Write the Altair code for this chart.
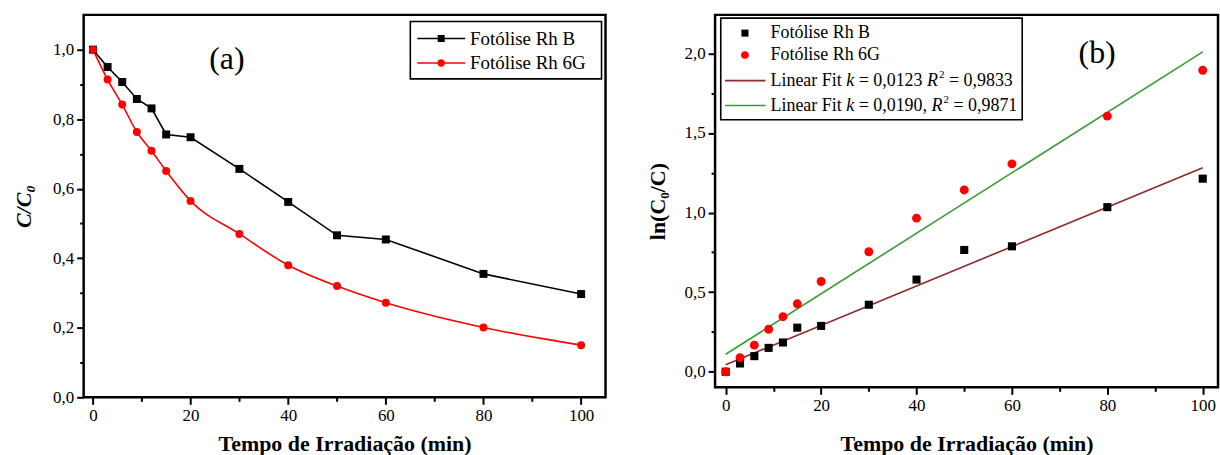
import altair as alt
import pandas as pd

# Irradiation times (min)
tempo = [0, 3, 6, 9, 12, 15, 20, 30, 40, 50, 60, 80, 100]

# Relative concentration C/C0
c_rhb = [1.0, 0.950, 0.907, 0.858, 0.831, 0.756, 0.748, 0.657, 0.562, 0.466, 0.454, 0.355, 0.297]
c_rh6g = [1.0, 0.914, 0.842, 0.763, 0.709, 0.651, 0.565, 0.470, 0.380, 0.320, 0.272, 0.201, 0.150]

# Pseudo-first-order plot ln(C0/C)
ln_rhb = [0.0, 0.052, 0.098, 0.150, 0.184, 0.277, 0.288, 0.421, 0.579, 0.765, 0.788, 1.034, 1.213]
ln_rh6g = [0.0, 0.088, 0.167, 0.267, 0.346, 0.427, 0.567, 0.754, 0.965, 1.142, 1.306, 1.606, 1.894]

# Linear fit lines (end points)
fit_t = [0, 100]
fit_rhb = [0.044, 1.281]
fit_rh6g = [0.110, 2.010]

series = ["Fotólise Rh B", "Fotólise Rh 6G"]

FONT = "'Liberation Serif', 'Times New Roman', serif"
BLACK, RED = "#000000", "#ff0000"
WINE, GREEN = "#8e2a2a", "#3a9a35"

W_A, H_A = 524, 384
W_B, H_B = 505, 374

one = pd.DataFrame({"k": [0]})


def txt(text, x, y, size, **kw):
    return alt.Chart(one).mark_text(
        text=text, font=FONT, fontSize=size, align="left", baseline="middle",
        color="black", **kw
    ).encode(x=alt.value(x), y=alt.value(y))


def rule(x1, x2, y, color, width=1.6):
    return alt.Chart(one).mark_rule(color=color, strokeWidth=width).encode(
        x=alt.value(x1), x2=alt.value(x2), y=alt.value(y)
    )


def sym(x, y, shape, color, size):
    return alt.Chart(one).mark_point(
        shape=shape, filled=True, color=color, size=size, opacity=1
    ).encode(x=alt.value(x), y=alt.value(y))


def box(x1, x2, y1, y2):
    return alt.Chart(one).mark_rect(
        fill="white", stroke="black", strokeWidth=1.6
    ).encode(x=alt.value(x1), x2=alt.value(x2), y=alt.value(y1), y2=alt.value(y2))


def x_axis(pad):
    return alt.Axis(
        values=list(range(0, 101, 10)),
        labelExpr="datum.value % 20 === 0 ? datum.label : ''",
        tickSize={"condition": {"test": "datum.value % 20 === 0", "value": 7}, "value": 4},
        title="Tempo de Irradiação (min)",
        titlePadding=pad,
    )


color_scale = alt.Scale(domain=series, range=[BLACK, RED])
shape_scale = alt.Scale(domain=series, range=["square", "circle"])

# ---------- panel (a): C/C0 versus time ----------
df_a = pd.DataFrame({
    "t": tempo + tempo,
    "v": c_rhb + c_rh6g,
    "s": [series[0]] * len(tempo) + [series[1]] * len(tempo),
})

xa = alt.X("t:Q", scale=alt.Scale(domain=[-1.9, 105], nice=False, zero=False), axis=x_axis(10))
ya = alt.Y(
    "v:Q",
    scale=alt.Scale(domain=[0, 1.1], nice=False),
    axis=alt.Axis(
        values=[i / 10 for i in range(0, 11)],
        labelExpr="round(datum.value * 10) % 2 === 0 ? replace(format(datum.value, '.1f'), '.', ',') : ''",
        tickSize={"condition": {"test": "round(datum.value * 10) % 2 === 0", "value": 7}, "value": 4},
        title="C/C₀",
        titleFontStyle="italic",
        titlePadding=17,
    ),
)

base_a = alt.Chart(df_a)
line_b = base_a.transform_filter(alt.datum.s == series[0]).mark_line(color=BLACK, strokeWidth=1.6).encode(x=xa, y=ya)
line_r = base_a.transform_filter(alt.datum.s == series[1]).mark_line(
    color=RED, strokeWidth=1.6, interpolate="monotone").encode(x=xa, y=ya)
pts_a = base_a.mark_point(filled=True, size=64, opacity=1).encode(
    x=xa, y=ya,
    color=alt.Color("s:N", scale=color_scale, legend=None),
    shape=alt.Shape("s:N", scale=shape_scale, legend=None),
)

legend_a = alt.layer(
    box(328, 520, 6.7, 64.3),
    rule(335, 383, 23.7, BLACK), sym(359, 23.7, "square", BLACK, 50),
    rule(335, 383, 48.3, RED), sym(359, 48.3, "circle", RED, 55),
    txt(series[0], 388, 24, 19),
    txt(series[1], 388, 48.6, 19),
)

panel_a = alt.layer(
    line_b, line_r, pts_a, legend_a,
    txt("(a)", 126, 44, 32),
).properties(width=W_A, height=H_A)

# ---------- panel (b): ln(C0/C) versus time ----------
df_b = pd.DataFrame({
    "t": tempo + tempo,
    "v": ln_rhb + ln_rh6g,
    "s": [series[0]] * len(tempo) + [series[1]] * len(tempo),
})
df_fit = pd.DataFrame({
    "t": fit_t + fit_t,
    "v": fit_rhb + fit_rh6g,
    "f": ["Rh B"] * 2 + ["Rh 6G"] * 2,
})

xb = alt.X("t:Q", scale=alt.Scale(domain=[-2.23, 103.2], nice=False, zero=False), axis=x_axis(20))
yb = alt.Y(
    "v:Q",
    scale=alt.Scale(domain=[-0.098, 2.242], nice=False, zero=False),
    axis=alt.Axis(
        values=[i / 4 for i in range(0, 9)],
        labelExpr="round(datum.value * 4) % 2 === 0 ? replace(format(datum.value, '.1f'), '.', ',') : ''",
        tickSize={"condition": {"test": "round(datum.value * 4) % 2 === 0", "value": 7}, "value": 4},
        title="ln(C₀/C)",
        titlePadding=15,
    ),
)

base_fit = alt.Chart(df_fit)
fit_b = base_fit.transform_filter(alt.datum.f == "Rh B").mark_line(color=WINE, strokeWidth=1.6).encode(x=xb, y=yb)
fit_g = base_fit.transform_filter(alt.datum.f == "Rh 6G").mark_line(color=GREEN, strokeWidth=1.6).encode(x=xb, y=yb)

pts_b = alt.Chart(df_b).mark_point(filled=True, opacity=1).encode(
    x=xb, y=yb,
    color=alt.Color("s:N", scale=color_scale, legend=None),
    shape=alt.Shape("s:N", scale=shape_scale, legend=None),
    size=alt.Size("s:N", scale=alt.Scale(domain=series, range=[66, 80]), legend=None),
)

LX = 55.7  # left edge of legend text
SUP = 11


def fit_entry(y, k_text, r_text, k_end):
    # "Linear Fit k = ... R² = ..." set piece by piece so k and R can be italic
    r_x = LX + 88.5 + k_end + 4.5
    return [
        txt("Linear Fit", LX, y, 18),
        txt("k", LX + 76.0, y, 18, fontStyle="italic"),
        txt(k_text, LX + 88.5, y, 18),
        txt("R", r_x, y, 18, fontStyle="italic"),
        txt("2", r_x + 12.0, y - 6, SUP),
        txt(r_text, r_x + 22.0, y, 18),
    ]


legend_b = alt.layer(
    box(5.7, 308.4, 3.3, 105.3),
    sym(30, 18.3, "square", BLACK, 50),
    sym(30, 40.3, "circle", RED, 60),
    txt(series[0], LX, 18.6, 18),
    txt(series[1], LX, 40.6, 18),
    rule(10, 50.7, 66, WINE), rule(10, 50.7, 91, GREEN),
    *fit_entry(66.3, "= 0,0123", "= 0,9833", 64.2),
    *fit_entry(91.3, "= 0,0190,", "= 0,9871", 68.7),
)

panel_b = alt.layer(
    fit_b, fit_g, pts_b, legend_b,
    txt("(b)", 365, 38, 32),
).properties(width=W_B, height=H_B)

chart = alt.hconcat(panel_a, panel_b, spacing=37).properties(
    padding={"left": 11, "top": 12, "right": 0, "bottom": 0}
).configure_view(
    stroke="black", strokeWidth=2.5
).configure_axis(
    domain=False, grid=False,
    labelFont=FONT, labelFontSize=17, labelColor="black", labelPadding=3,
    titleFont=FONT, titleFontSize=22, titleFontWeight="bold", titleColor="black",
    tickColor="black", tickWidth=2,
)

chart.save("out.html", embed_options={"renderer": "svg", "actions": False})
